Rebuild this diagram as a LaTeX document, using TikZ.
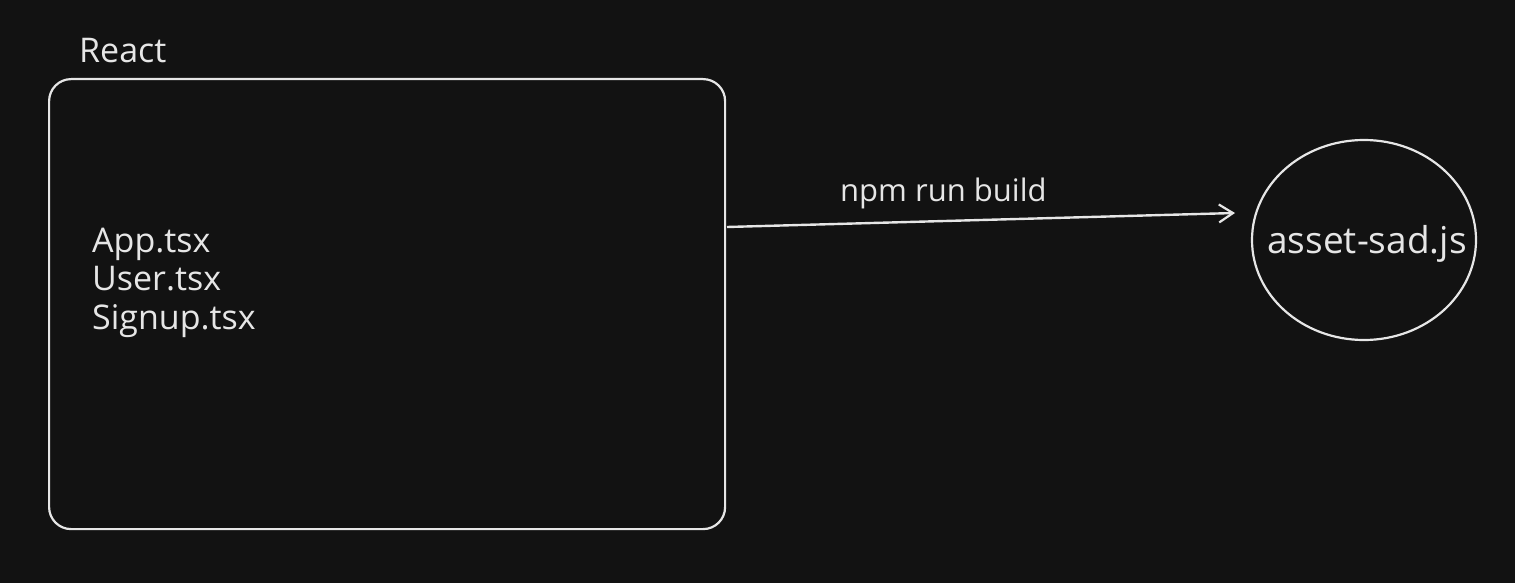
\documentclass[tikz,border=0pt]{standalone}
\usepackage{fontspec}
\setmainfont{Open Sans}
\usetikzlibrary{shapes.geometric,arrows.meta}
\definecolor{bgc}{HTML}{121212}
\definecolor{ink}{HTML}{E6E6E6}
\tikzset{
  sketch/.style={draw=ink, line width=2.2pt},
  lbl/.style={text=ink, inner sep=0pt, anchor=base west, font=\fontsize{34}{40}\selectfont},
}
\begin{document}
\begin{tikzpicture}[x=1pt,y=-1pt]
\fill[bgc] (0,0) rectangle (1515,583);
\useasboundingbox (0,0) rectangle (1515,583);
\node[sketch, rounded corners=22pt, minimum width=676pt, minimum height=450pt, anchor=north west, inner sep=0pt] (react) at (48,78) {};
\node[lbl] (reactlbl) at (79,63) {React};
\node[lbl] (app) at (92,252) {App.tsx};
\node[lbl] (user) at (92,290) {User.tsx};
\node[lbl] (signup) at (92,329) {Signup.tsx};
\node[sketch, ellipse, minimum width=224pt, minimum height=200pt, inner sep=0pt] (asset) at (1364,240) {};
\node[lbl, anchor=base, font=\fontsize{37}{44}\selectfont] (assetlbl) at (1367,253) {asset-sad.js};
\coordinate (start) at (727,227);
\coordinate (tip) at (1235,213);
\draw[ink, line width=2.4pt, -{Straight Barb[length=14pt,width=18pt,line width=2.2pt]}] (start) -- (tip);
\node[lbl, font=\fontsize{31}{36}\selectfont] (build) at (840,201) {npm run build};
\end{tikzpicture}
\end{document}
